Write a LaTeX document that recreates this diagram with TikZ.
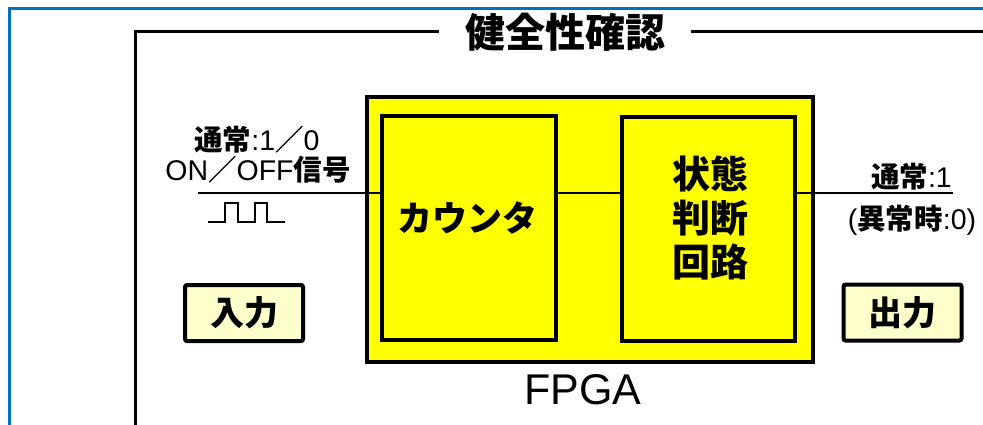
\documentclass[tikz,border=0pt]{standalone}
\usepackage{fontspec}
\setmainfont{Noto Sans CJK JP}
\newfontfamily\latf{Liberation Sans}
\newcommand{\lt}[1]{{\latf\mdseries #1}}
\definecolor{frameblue}{HTML}{0070C0}
\definecolor{fpgayellow}{HTML}{FFFF00}
\definecolor{lightyellow}{HTML}{FFFFCC}
\begin{document}
\begin{tikzpicture}[x=1pt,y=-1pt,
  blockbox/.style={draw=black,line width=4pt,fill=fpgayellow,inner sep=0pt},
  iobox/.style={draw=black,line width=4pt,fill=lightyellow,rounded corners=2pt,minimum width=118pt,minimum height=56pt,inner sep=0pt,font=\bfseries\fontsize{34}{38}\selectfont},
  lbl/.style={inner sep=0pt,font=\bfseries\fontsize{28.5}{32}\selectfont},
  wire/.style={line width=2pt}]
\useasboundingbox (0,0) rectangle (983,425);
% blue outer frame
\draw[frameblue,line width=3pt] (9,425) |- (983,9);
% title and black frame
\node[fill=white,inner xsep=26pt,inner ysep=0pt,font=\bfseries\fontsize{40}{44}\selectfont] (title) at (565,32) {健全性確認};
\coordinate (fbl) at (135,425);
\coordinate (fr) at (983,30);
\draw[line width=3pt] (fbl) |- (title.west);
\draw[line width=3pt] (title.east) -- (title.east -| fr);
% FPGA
\node[blockbox,minimum width=446pt,minimum height=265pt] (fpga) at (590,229.5) {};
\node[blockbox,minimum width=174pt,minimum height=224pt] (counter) at (469,228) {};
\node[blockbox,minimum width=173pt,minimum height=224pt] (state) at (708.5,229) {};
\node[inner sep=0pt,font=\bfseries\fontsize{35}{38}\selectfont] (ctext) at (467,218) {カウンタ};
\node[inner sep=0pt,align=center,font=\bfseries\fontsize{38}{44}\selectfont] (stext) at (710,218) {状態\\判断\\回路};
\node[inner sep=0pt,font=\latf\fontsize{43}{46}\selectfont] (fpgalbl) at (583,390) {FPGA};
% connectors
\coordinate (in1) at (198,193);
\coordinate (out1) at (953,193);
\draw[wire] (in1) -- (in1 -| counter.west);
\draw[wire] (counter.east |- in1) -- (state.west |- in1);
\draw[wire] (state.east |- in1) -- (out1);
% input labels
\node[lbl] (inl1) at (257,140) {通常\lt{:1}／\lt{0}};
\node[lbl] (inl2) at (258,170) {\lt{ON}／\lt{OFF}信号};
\draw[line width=1.5pt] (208,222) -- (225,222) -- (225,203) -- (238,203) -- (238,222) -- (255,222) -- (255,203) -- (267,203) -- (267,222) -- (285,222);
% output labels
\node[lbl,anchor=east] (outl1) at (952,177) {通常\lt{:1}};
\node[lbl] (outl2) at (912,220) {\lt{(}異常時\lt{:0)}};
% io boxes
\node[iobox] (inbox) at (244,313) {入力};
\node[iobox] (outbox) at (902.5,312.5) {出力};
\end{tikzpicture}
\end{document}
